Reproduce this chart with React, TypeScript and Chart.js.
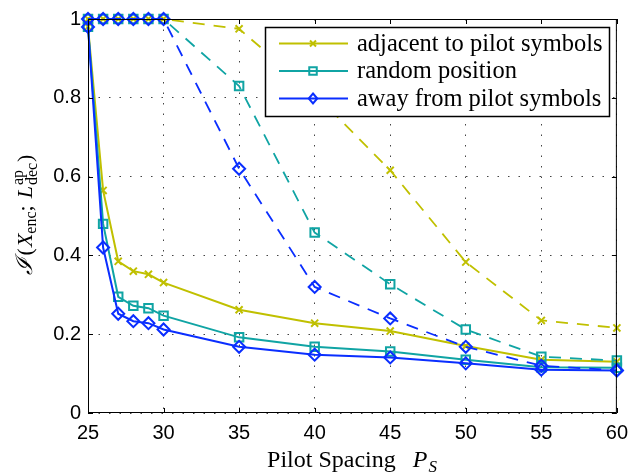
import React, { useEffect, useRef } from 'react';
import { Chart, registerables } from 'chart.js';

Chart.register(...registerables);

const pilotSpacing = [25, 26, 27, 28, 29, 30, 35, 40, 45, 50, 55, 60];
const adjacentSolid = [0.98, 0.565, 0.385, 0.36, 0.352, 0.331, 0.262, 0.228, 0.208, 0.17, 0.135, 0.13];
const randomSolid = [0.98, 0.48, 0.295, 0.272, 0.266, 0.247, 0.192, 0.168, 0.156, 0.135, 0.116, 0.115];
const awaySolid = [0.98, 0.42, 0.252, 0.233, 0.228, 0.212, 0.168, 0.148, 0.141, 0.126, 0.11, 0.108];
const adjacentDashed = [1, 1, 1, 1, 1, 1, 0.975, 0.81, 0.616, 0.383, 0.235, 0.216];
const randomDashed = [1, 1, 1, 1, 1, 1, 0.83, 0.458, 0.327, 0.212, 0.143, 0.133];
const awayDashed = [1, 1, 1, 1, 1, 1, 0.62, 0.32, 0.24, 0.168, 0.12, 0.108];
const xTicks = [25, 30, 35, 40, 45, 50, 55, 60];
const yTicks = [0, 0.2, 0.4, 0.6, 0.8, 1];
const legendLabels = ['adjacent to pilot symbols', 'random position', 'away from pilot symbols'];

const YELLOW = '#c0c000';
const TEAL = '#10a4a4';
const BLUE = '#0a2eff';
const colors = [YELLOW, TEAL, BLUE];
const markers = ['crossRot', 'rect', 'rectRot'];
const radii = [5, 6, 6];

const SERIF = '"Liberation Serif", "DejaVu Serif", serif';
const SANS = '"Liberation Sans", Arial, sans-serif';

function toPoints(vals: number[]) {
  return pilotSpacing.map((x, i) => ({ x, y: vals[i] }));
}

function makeDataset(label: string, vals: number[], idx: number, dashed: boolean) {
  return {
    label,
    data: toPoints(vals),
    borderColor: colors[idx],
    backgroundColor: 'rgba(0,0,0,0)',
    borderWidth: dashed ? 1.8 : 2,
    borderDash: dashed ? [12, 9] : [],
    pointStyle: markers[idx],
    pointRadius: radii[idx],
    pointBorderWidth: 2,
    pointBorderColor: colors[idx],
    pointBackgroundColor: 'rgba(0,0,0,0)',
    pointHoverRadius: radii[idx],
    tension: 0,
    clip: false as any,
    order: 3 - idx,
  };
}

type Part = { text: string; font: string; dy?: number; stackSub?: string; gapAfter?: number };

function drawRich(ctx: CanvasRenderingContext2D, parts: Part[], cx: number, y: number, subFont: string) {
  const widths = parts.map((p) => {
    ctx.font = p.font;
    let w = ctx.measureText(p.text).width;
    if (p.stackSub) {
      ctx.font = subFont;
      w = Math.max(w, ctx.measureText(p.stackSub).width);
    }
    return w + (p.gapAfter || 0);
  });
  const total = widths.reduce((a, b) => a + b, 0);
  let x = cx - total / 2;
  parts.forEach((p, i) => {
    ctx.font = p.font;
    ctx.fillText(p.text, x, y + (p.dy || 0));
    if (p.stackSub) {
      ctx.font = subFont;
      ctx.fillText(p.stackSub, x, y + 5);
    }
    x += widths[i];
  });
}

function drawMarker(ctx: CanvasRenderingContext2D, style: string, x: number, y: number, r: number, color: string) {
  ctx.save();
  ctx.strokeStyle = color;
  ctx.lineWidth = 2;
  ctx.setLineDash([]);
  ctx.beginPath();
  if (style === 'crossRot') {
    const d = r * 0.75;
    ctx.moveTo(x - d, y - d);
    ctx.lineTo(x + d, y + d);
    ctx.moveTo(x - d, y + d);
    ctx.lineTo(x + d, y - d);
  } else if (style === 'rect') {
    const s = r * 0.75;
    ctx.rect(x - s, y - s, 2 * s, 2 * s);
  } else {
    ctx.moveTo(x, y - r);
    ctx.lineTo(x + r * 0.85, y);
    ctx.lineTo(x, y + r);
    ctx.lineTo(x - r * 0.85, y);
    ctx.closePath();
  }
  ctx.stroke();
  ctx.restore();
}

const decorPlugin = {
  id: 'decor',
  afterDatasetsDraw(chart: any) {
    const { ctx, chartArea } = chart;
    const { left, right, top, bottom } = chartArea;
    const xs = chart.scales.x;
    const ys = chart.scales.y;
    ctx.save();
    ctx.strokeStyle = '#000';
    ctx.lineWidth = 1;
    ctx.strokeRect(left + 0.5, top + 0.5, right - left - 1, bottom - top - 1);
    ctx.beginPath();
    xTicks.forEach((v) => {
      const px = Math.round(xs.getPixelForValue(v)) + 0.5;
      ctx.moveTo(px, bottom);
      ctx.lineTo(px, bottom - 5);
      ctx.moveTo(px, top);
      ctx.lineTo(px, top + 5);
    });
    yTicks.forEach((v) => {
      const py = Math.round(ys.getPixelForValue(v)) + 0.5;
      ctx.moveTo(left, py);
      ctx.lineTo(left + 5, py);
      ctx.moveTo(right, py);
      ctx.lineTo(right - 5, py);
    });
    ctx.stroke();
    ctx.restore();
  },
  afterDraw(chart: any) {
    const { ctx } = chart;
    ctx.save();
    // Legend
    const lx = 265.5, ly = 27.5, lw = 344, lh = 89;
    ctx.fillStyle = '#fff';
    ctx.fillRect(lx, ly, lw, lh);
    ctx.strokeStyle = '#000';
    ctx.lineWidth = 1.5;
    ctx.strokeRect(lx, ly, lw, lh);
    legendLabels.forEach((lab, i) => {
      const yy = 43.5 + i * 27.5;
      ctx.strokeStyle = colors[i];
      ctx.lineWidth = 2;
      ctx.setLineDash([]);
      ctx.beginPath();
      ctx.moveTo(279, yy);
      ctx.lineTo(348, yy);
      ctx.stroke();
      drawMarker(ctx, markers[i], 313, yy, i === 0 ? 4 : 5, colors[i]);
      ctx.fillStyle = '#000';
      ctx.font = `24.5px ${SERIF}`;
      ctx.textBaseline = 'middle';
      ctx.textAlign = 'left';
      ctx.fillText(lab, 357, yy + 1);
    });

    // X axis title
    ctx.fillStyle = '#000';
    ctx.textBaseline = 'alphabetic';
    ctx.textAlign = 'left';
    drawRich(
      ctx,
      [
        { text: 'Pilot Spacing', font: `24px ${SERIF}`, gapAfter: 17 },
        { text: 'P', font: `italic 24px ${SERIF}`, gapAfter: 1 },
        { text: 'S', font: `italic 17px ${SERIF}`, dy: 5 },
      ],
      352,
      467,
      `17px ${SERIF}`
    );

    // Y axis title (rotated)
    ctx.translate(32, 215);
    ctx.rotate(-Math.PI / 2);
    drawRich(
      ctx,
      [
        { text: '\u2110', font: `italic 23px ${SERIF}`, gapAfter: 3 },
        { text: '(', font: `22px ${SERIF}`, gapAfter: 1 },
        { text: 'X', font: `italic 22px ${SERIF}` },
        { text: 'enc', font: `16px ${SERIF}`, dy: 4 },
        { text: ';', font: `22px ${SERIF}`, gapAfter: 7 },
        { text: 'L', font: `italic 22px ${SERIF}`, gapAfter: 1 },
        { text: 'ap', font: `16px ${SERIF}`, dy: -9, stackSub: 'dec', gapAfter: 1 },
        { text: ')', font: `22px ${SERIF}` },
      ],
      0,
      0,
      `16px ${SERIF}`
    );
    ctx.restore();
  },
};

export default function App() {
  const ref = useRef<HTMLCanvasElement | null>(null);

  useEffect(() => {
    if (!ref.current) return;
    const datasets = [
      makeDataset(legendLabels[0], adjacentSolid, 0, false),
      makeDataset(legendLabels[1], randomSolid, 1, false),
      makeDataset(legendLabels[2], awaySolid, 2, false),
      makeDataset(legendLabels[0] + ' (dashed)', adjacentDashed, 0, true),
      makeDataset(legendLabels[1] + ' (dashed)', randomDashed, 1, true),
      makeDataset(legendLabels[2] + ' (dashed)', awayDashed, 2, true),
    ];
    const chart = new Chart(ref.current, {
      type: 'line',
      data: { datasets: datasets as any },
      options: {
        responsive: false,
        animation: false,
        devicePixelRatio: 1,
        layout: { padding: { top: 13, right: 14, left: 0, bottom: 0 } },
        plugins: {
          legend: { display: false },
          tooltip: { enabled: false },
          title: { display: false },
        },
        scales: {
          x: {
            type: 'linear',
            min: 25,
            max: 60,
            afterBuildTicks: (s: any) => {
              s.ticks = xTicks.map((v) => ({ value: v }));
            },
            afterFit: (s: any) => {
              s.height = 63;
            },
            ticks: {
              font: { family: SANS, size: 20 },
              color: '#000',
              padding: 8,
              maxRotation: 0,
              autoSkip: false,
              callback: (v: any) => String(v),
            },
            grid: { color: '#444', lineWidth: 1, drawTicks: false },
            border: { display: false, dash: [1.5, 9] },
          },
          y: {
            type: 'linear',
            min: 0,
            max: 1,
            afterBuildTicks: (s: any) => {
              s.ticks = yTicks.map((v) => ({ value: v }));
            },
            afterFit: (s: any) => {
              s.width = 88;
            },
            ticks: {
              font: { family: SANS, size: 20 },
              color: '#000',
              padding: 7,
              autoSkip: false,
              callback: (v: any) => String(Number(Number(v).toFixed(1))),
            },
            grid: { color: '#444', lineWidth: 1, drawTicks: false },
            border: { display: false, dash: [1.5, 9] },
          },
        },
      },
      plugins: [decorPlugin],
    });
    return () => chart.destroy();
  }, []);

  return (
    <div style={{ position: 'fixed', left: 0, top: 0, width: 636, height: 476, background: '#fff' }}>
      <canvas ref={ref} width={636} height={476} style={{ display: 'block' }} />
    </div>
  );
}
